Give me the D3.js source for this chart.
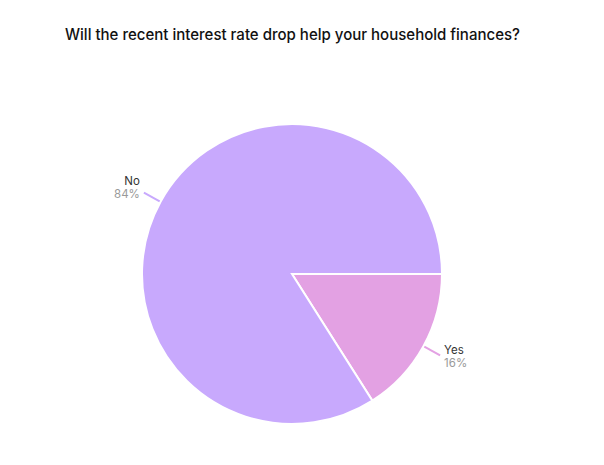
<!DOCTYPE html>
<html>
<head>
<meta charset="utf-8">
<script src="https://cdn.jsdelivr.net/npm/d3@7"></script>
<style>
  body { margin: 0; background: #fff; }
  svg { display: block; font-family: Inter, "Noto Sans", sans-serif; }
</style>
</head>
<body>
<div id="chart"></div>
<script>
const title = "Will the recent interest rate drop help your household finances?";
const answers = ["Yes", "No"];
const shares = [16, 84];
const sliceColors = ["#e3a1e3", "#c8a9fd"];

const width = 604, height = 465;
const cx = 292, cy = 274, radius = 150;

const svg = d3.select("#chart").append("svg")
    .attr("width", width)
    .attr("height", height);

svg.append("text")
    .attr("x", 65)
    .attr("y", 40)
    .attr("fill", "#111")
    .attr("textLength", 455)
    .attr("lengthAdjust", "spacingAndGlyphs")
    .style("font-size", "15.5px")
    .style("font-weight", 500)
    .text(title);

const data = answers.map((a, i) => ({ label: a, value: shares[i], color: sliceColors[i] }));

const pie = d3.pie()
    .sort(null)
    .value(d => d.value)
    .startAngle(Math.PI / 2)
    .endAngle(Math.PI / 2 + 2 * Math.PI);

const arcs = pie(data);
const arc = d3.arc().innerRadius(0).outerRadius(radius);

const g = svg.append("g").attr("transform", `translate(${cx},${cy})`);

g.selectAll("path")
    .data(arcs)
    .join("path")
    .attr("d", arc)
    .attr("fill", d => d.data.color)
    .attr("stroke", "#fff")
    .attr("stroke-width", 2);

// Leader lines
const pt = (a, r) => [Math.sin(a) * r, -Math.cos(a) * r];
const mid = d => (d.startAngle + d.endAngle) / 2;
const upper = d => Math.cos(mid(d)) > 0;

g.selectAll("line.leader")
    .data(arcs)
    .join("line")
    .attr("class", "leader")
    .attr("x1", d => pt(mid(d), radius + 1)[0])
    .attr("y1", d => pt(mid(d), radius + 1)[1])
    .attr("x2", d => pt(mid(d), radius + 19)[0])
    .attr("y2", d => pt(mid(d), radius + 19)[1])
    .attr("stroke", d => d.data.color)
    .attr("stroke-width", 2);

const labels = g.selectAll("g.label")
    .data(arcs)
    .join("g")
    .attr("class", "label")
    .attr("transform", d => {
        const p = pt(mid(d), radius + 19);
        const right = Math.sin(mid(d)) > 0;
        return `translate(${p[0] + (right ? 4 : -4)},${p[1]})`;
    })
    .attr("text-anchor", d => Math.sin(mid(d)) > 0 ? "start" : "end");

labels.append("text")
    .attr("y", d => upper(d) ? -8 : -1)
    .attr("fill", "#333")
    .style("font-size", "11.5px")
    .text(d => d.data.label);

labels.append("text")
    .attr("y", d => upper(d) ? 5 : 12)
    .attr("fill", "#999")
    .style("font-size", "11.5px")
    .text(d => d.data.value + "%");
</script>
</body>
</html>
